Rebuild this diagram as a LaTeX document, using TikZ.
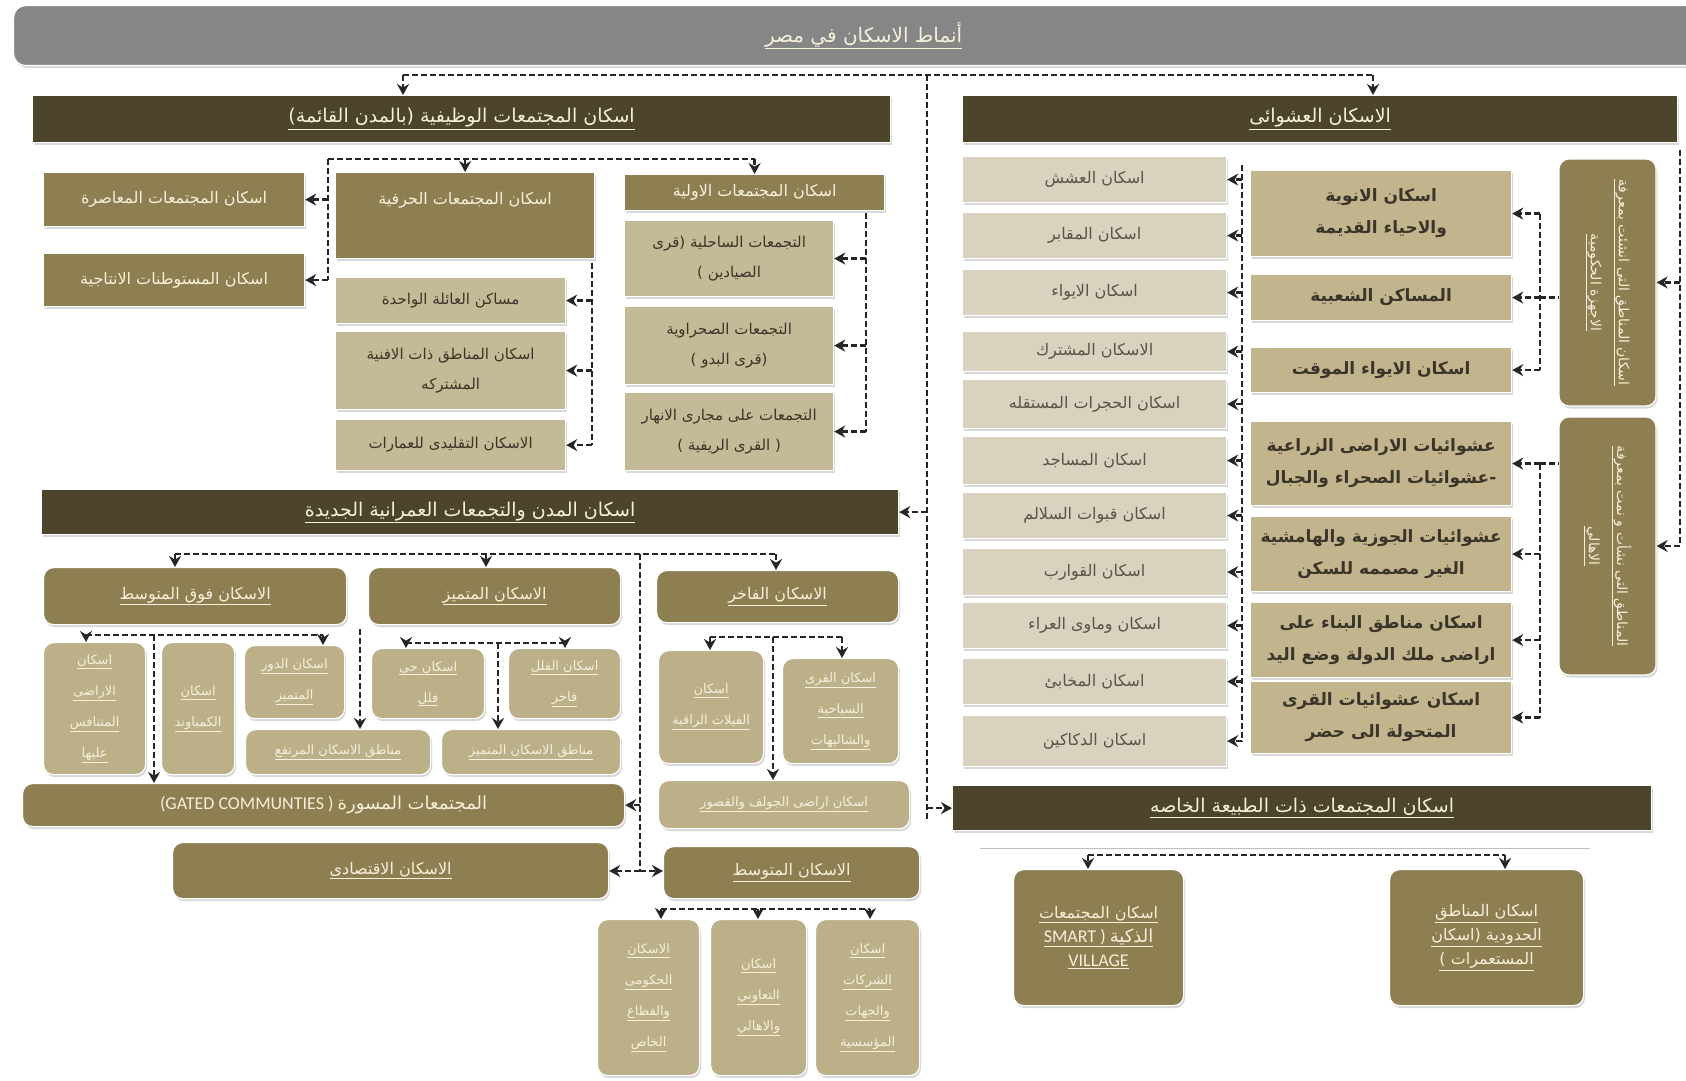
\documentclass[tikz,border=0pt]{standalone}
\usepackage{fontspec}
\setmainfont{Carlito}
\newfontfamily\arabicfont[Script=Arabic]{DejaVu Sans}
\usetikzlibrary{arrows.meta,shadows}
\TeXXeTstate=1
\newcommand\ar[1]{{\arabicfont\beginR #1\endR}}
\newcommand\au[1]{\underline{\ar{#1}}}
\newcommand\bx[7]{\node[#1,anchor=north west,minimum width=#5pt,minimum height=#6pt] (#2) at (#3,#4) {#7};}
\definecolor{darkc}{HTML}{4D452B}
\definecolor{olivec}{HTML}{8E7F52}
\definecolor{tanc}{HTML}{C4BA97}
\definecolor{lightc}{HTML}{D8D2BE}
\definecolor{midc}{HTML}{C2B58E}
\definecolor{softc}{HTML}{BCB089}
\definecolor{cream}{HTML}{F6F0DA}
\definecolor{txtd}{HTML}{3A3528}
\definecolor{txtg}{HTML}{5A5448}
\definecolor{titlegray}{HTML}{868686}
\tikzset{
 bxbase/.style={draw=white, line width=1.2pt, align=center, inner sep=3pt, drop shadow={shadow xshift=1.5pt, shadow yshift=-2.5pt, opacity=0.3}},
 hdr/.style={bxbase, fill=darkc, text=cream, font=\fontsize{19}{24}\selectfont},
 olv/.style={bxbase, fill=olivec, text=cream, font=\fontsize{16}{24}\selectfont},
 olvr/.style={olv, rounded corners=10pt},
 tanbox/.style={bxbase, fill=tanc, text=txtd, font=\fontsize{15}{30}\selectfont},
 lgt/.style={bxbase, fill=lightc, text=txtg, font=\fontsize{16}{20}\selectfont},
 mdt/.style={bxbase, fill=midc, text=txtd, font=\fontsize{17}{32}\selectfont\bfseries},
 softr/.style={bxbase, fill=softc, text=cream, rounded corners=10pt, font=\fontsize{13}{31}\selectfont},
 dsh/.style={draw=black!85, line width=2.4pt, dash pattern=on 6pt off 3pt},
 arr/.style={dsh, -{Stealth[length=11pt,width=12pt]}},
}
\begin{document}
\begin{tikzpicture}[x=1pt,y=-1pt]
\fill[white] (0,0) rectangle (1686,1081);
\useasboundingbox (0,0) rectangle (1686,1081);
% title
\bx{bxbase,fill=titlegray,text=cream,rounded corners=12pt,font=\fontsize{20}{24}\selectfont}{title}{13}{5}{1700}{60}{\au{أنماط الاسكان في مصر}}
\bx{hdr}{hL}{32}{95}{858}{47}{\au{اسكان المجتمعات الوظيفية  (بالمدن القائمة)}}
\bx{hdr}{hR}{962}{95}{715}{47}{\au{الاسكان العشوائى}}
% left section
\bx{olv}{mod}{43}{172}{261}{54}{\ar{اسكان المجتمعات المعاصرة}}
\bx{olv}{prod}{43}{253}{261}{53}{\ar{اسكان المستوطنات الانتاجية}}
\bx{olv}{craft}{335}{172}{259}{86}{\ar{اسكان المجتمعات الحرفية}\\\rule{0pt}{30pt}}
\bx{olv}{prim}{624}{174}{260}{36}{\ar{اسكان المجتمعات الاولية}}
\bx{tanbox}{c1}{335}{277}{230}{46}{\ar{مساكن العائلة الواحدة}}
\bx{tanbox}{c2}{335}{331}{230}{78}{\ar{اسكان المناطق ذات الافنية}\\\ar{المشتركه}}
\bx{tanbox}{c3}{335}{419}{230}{51}{\ar{الاسكان التقليدى للعمارات}}
\bx{tanbox}{p1}{624}{220}{209}{76}{\ar{التجمعات الساحلية (قرى}\\\ar{الصيادين )}}
\bx{tanbox}{p2}{624}{306}{209}{78}{\ar{التجمعات الصحراوية}\\\ar{(قرى البدو )}}
\bx{tanbox}{p3}{624}{392}{209}{78}{\ar{التجمعات على مجارى الانهار}\\\ar{( القرى الريفية )}}
% top connectors
\coordinate (tL) at (403,75);
\coordinate (tR) at (1373,75);
\coordinate (tC) at (927,75);
\coordinate (cB) at (927,819);
\draw[dsh] (tL) -- (tR);
\draw[arr] (tL) -- (tL |- hL.north);
\draw[arr] (tR) -- (tR |- hR.north);
\draw[dsh] (tC) -- (cB);
% left connectors
\coordinate (jL1) at (328,159);
\draw[dsh] (jL1) -- (prim.north |- jL1);
\draw[arr] (craft.north |- jL1) -- (craft.north);
\draw[arr] (prim.north |- jL1) -- (prim.north);
\draw[dsh] (jL1) -- (jL1 |- prod.east);
\draw[arr] (jL1 |- mod.east) -- (mod.east);
\draw[arr] (jL1 |- prod.east) -- (prod.east);
\coordinate (jC) at (592,263);
\draw[dsh] (jC) -- (jC |- c3.east);
\draw[arr] (jC |- c1.east) -- (c1.east);
\draw[arr] (jC |- c2.east) -- (c2.east);
\draw[arr] (jC |- c3.east) -- (c3.east);
\coordinate (jP) at (866,213);
\draw[dsh] (jP) -- (jP |- p3.east);
\draw[arr] (jP |- p1.east) -- (p1.east);
\draw[arr] (jP |- p2.east) -- (p2.east);
\draw[arr] (jP |- p3.east) -- (p3.east);
% new cities
\bx{hdr}{hM}{41}{489}{857}{45}{\au{اسكان المدن والتجمعات العمرانية الجديدة}}
\draw[arr] (tC |- hM.east) -- (hM.east);
\bx{olvr}{ab}{43}{567}{303}{57}{\au{الاسكان فوق المتوسط}}
\bx{olvr}{pm}{368}{567}{252}{57}{\au{الاسكان المتميز}}
\bx{olvr}{lx}{656}{570}{242}{52}{\au{الاسكان الفاخر}}
\bx{softr}{a1}{43}{642}{102}{132}{\au{اسكان}\\\au{الاراضى}\\\au{المتنافس}\\\au{عليها}}
\bx{softr}{a2}{161}{642}{73}{132}{\au{اسكان}\\\au{الكمباوند}}
\bx{softr}{a3}{244}{645}{100}{73}{\au{اسكان الدور}\\\au{المتميز}}
\bx{softr}{m1}{245}{729}{185}{45}{\au{مناطق الاسكان المرتفع}}
\bx{softr}{m2}{441}{729}{179}{45}{\au{مناطق الاسكان المتميز}}
\bx{softr}{pr1}{371}{648}{113}{70}{\au{اسكان حى}\\\au{فلل}}
\bx{softr}{pr2}{508}{648}{112}{70}{\au{اسكان الفلل}\\\au{فاخر}}
\bx{softr}{l1}{658}{650}{105}{113}{\au{اسكان}\\\au{الفيلات الراقية}}
\bx{softr}{l2}{782}{658}{116}{105}{\au{اسكان القرى}\\\au{السياحية}\\\au{والشاليهات}}
\bx{softr}{golf}{658}{780}{251}{48}{\au{اسكان اراضى الجولف والقصور}}
\bx{olvr}{gated}{22}{783}{602}{43}{\fontsize{18}{22}\selectfont(GATED COMMUNTIES ) \ar{المجتمعات المسورة}}
\bx{olvr}{econ}{172}{842}{436}{56}{\au{الاسكان الاقتصادى}}
\bx{olvr}{mid}{663}{846}{256}{52}{\au{الاسكان المتوسط}}
\bx{softr}{mc1}{597}{919}{102}{156}{\au{الاسكان}\\\au{الحكومى}\\\au{والقطاع}\\\au{الخاص}}
\bx{softr}{mc2}{710}{919}{96}{156}{\au{اسكان}\\\au{التعاوني}\\\au{والاهالي}}
\bx{softr}{mc3}{815}{919}{104}{156}{\au{اسكان}\\\au{الشركات}\\\au{والجهات}\\\au{المؤسسية}}
% new cities connectors
\coordinate (mA) at (175,554);
\coordinate (mP) at (486,554);
\coordinate (mV) at (640,554);
\coordinate (mB) at (776,554);
\coordinate (mV2) at (640,871);
\draw[dsh] (mA) -- (mB);
\draw[arr] (mA) -- (mA |- ab.north);
\draw[arr] (mP) -- (mP |- pm.north);
\draw[arr] (mB) -- (mB |- lx.north);
\draw[dsh] (mV) -- (mV2);
\draw[arr] (mV |- gated.east) -- (gated.east);
\draw[arr] (mV2) -- (mV2 -| econ.east);
\draw[arr] (mV2) -- (mV2 -| mid.west);
\coordinate (aA) at (86,635);
\coordinate (aB) at (323,635);
\coordinate (aV) at (154,635);
\draw[dsh] (aA) -- (aB);
\draw[arr] (aA) -- (aA |- a1.north);
\draw[arr] (aB) -- (aB |- a3.north);
\draw[arr] (aV) -- (aV |- gated.north);
\coordinate (pA) at (406,643);
\coordinate (pB) at (565,643);
\coordinate (pV) at (498,643);
\coordinate (pW) at (360,629);
\draw[dsh] (pA) -- (pB);
\draw[arr] (pA) -- (pA |- pr1.north);
\draw[arr] (pB) -- (pB |- pr2.north);
\draw[arr] (pV) -- (pV |- m2.north);
\draw[arr] (pW) -- (pW |- m1.north);
\coordinate (lA) at (710,637);
\coordinate (lB) at (842,637);
\coordinate (lV) at (773,637);
\draw[dsh] (lA) -- (lB);
\draw[arr] (lA) -- (lA |- l1.north);
\draw[arr] (lB) -- (lB |- l2.north);
\draw[arr] (lV) -- (lV |- golf.north);
\coordinate (dA) at (661,909);
\coordinate (dM) at (758,909);
\coordinate (dB) at (870,909);
\draw[dsh] (dA) -- (dB);
\draw[arr] (dA) -- (dA |- mc1.north);
\draw[arr] (dM) -- (dM |- mc2.north);
\draw[arr] (dB) -- (dB |- mc3.north);
% informal section
\bx{lgt}{r1}{962}{156}{264}{46}{\ar{اسكان العشش}}
\bx{lgt}{r2}{962}{212}{264}{46}{\ar{اسكان المقابر}}
\bx{lgt}{r3}{962}{269}{264}{46}{\ar{اسكان الايواء}}
\bx{lgt}{r4}{962}{331}{264}{40}{\ar{الاسكان المشترك}}
\bx{lgt}{r5}{962}{379}{264}{49}{\ar{اسكان الحجرات المستقله}}
\bx{lgt}{r6}{962}{436}{264}{48}{\ar{اسكان المساجد}}
\bx{lgt}{r7}{962}{492}{264}{46}{\ar{اسكان قبوات السلالم}}
\bx{lgt}{r8}{962}{548}{264}{47}{\ar{اسكان القوارب}}
\bx{lgt}{r9}{962}{602}{264}{46}{\ar{اسكان وماوى العراء}}
\bx{lgt}{r10}{962}{658}{264}{46}{\ar{اسكان المخابئ}}
\bx{lgt}{r11}{962}{715}{264}{51}{\ar{اسكان الدكاكين}}
\coordinate (jR) at (1242,165);
\draw[dsh] (jR) -- (jR |- r11.east);
\foreach \n in {r1,r2,r3,r4,r5,r6,r7,r8,r9,r10,r11}{\draw[arr] (jR |- \n.east) -- (\n.east);}
\bx{mdt}{q1}{1250}{170}{261}{86}{\ar{اسكان الانوية}\\\ar{والاحياء القديمة}}
\bx{mdt}{q2}{1250}{274}{261}{46}{\ar{المساكن الشعبية}}
\bx{mdt}{q3}{1250}{347}{261}{45}{\ar{اسكان الايواء الموقت}}
\bx{mdt}{q4}{1250}{421}{261}{84}{\ar{عشوائيات الاراضى الزراعية}\\\ar{-عشوائيات الصحراء والجبال}}
\bx{mdt}{q5}{1250}{516}{261}{75}{\ar{عشوائيات الجوزية والهامشية}\\\ar{الغير مصممه للسكن}}
\bx{mdt}{q6}{1250}{602}{261}{75}{\ar{اسكان مناطق البناء على}\\\ar{اراضى ملك الدولة  وضع اليد}}
\bx{mdt}{q7}{1250}{681}{261}{72}{\ar{اسكان عشوائيات القرى}\\\ar{المتحولة الى حضر}}
\node[olvr, rotate=-90, minimum width=247pt, minimum height=97pt, font=\fontsize{14}{28}\selectfont] (v1) at (1607.5,282.5) {\au{اسكان المناطق التى انشئت بمعرفة}\\\au{الاجهزة الحكومية}};
\node[olvr, rotate=-90, minimum width=258pt, minimum height=97pt, font=\fontsize{14}{28}\selectfont] (v2) at (1607.5,546) {\au{المناطق التى نشأت و نمت بمعرفة}\\\au{الاهالي}};
\coordinate (bU) at (1540,213);
\draw[dsh] (bU |- q1.east) -- (bU |- q3.east);
\draw[arr] (bU |- q1.east) -- (q1.east);
\draw[arr] (bU |- q2.east) -- (q2.east);
\draw[arr] (bU |- q3.east) -- (q3.east);
\draw[dsh] (bU |- q2.east) -- (v1.south |- q2.east);
\draw[dsh] (bU |- q4.east) -- (bU |- q7.east);
\draw[arr] (bU |- q4.east) -- (q4.east);
\draw[arr] (bU |- q5.east) -- (q5.east);
\draw[arr] (bU |- q6.east) -- (q6.east);
\draw[arr] (bU |- q7.east) -- (q7.east);
\draw[dsh] (bU |- q4.east) -- (v2.south |- q4.east);
\coordinate (fr) at (1680,150);
\draw[dsh] (fr) -- (fr |- v2.north);
\draw[arr] (fr |- v1.north) -- (v1.north);
\draw[arr] (fr |- v2.north) -- (v2.north);
% special nature
\bx{hdr}{hS}{952}{785}{699}{45}{\au{اسكان المجتمعات ذات الطبيعة الخاصه}}
\draw[arr] (cB |- hS.west) -- (hS.west);
\draw[black!25, line width=1pt] (980,848) -- (1590,848);
\bx{olvr}{sm}{1013}{869}{170}{136}{\au{اسكان المجتمعات}\\\underline{\fontsize{18}{22}\selectfont SMART ) \ar{الذكية}}\\\underline{\fontsize{18}{22}\selectfont VILLAGE}}
\bx{olvr}{bd}{1389}{869}{194}{136}{\au{اسكان المناطق}\\\au{الحدودية (اسكان}\\\au{المستعمرات )}}
\coordinate (sA) at (1088,855);
\coordinate (sB) at (1505,855);
\draw[dsh] (sA) -- (sB);
\draw[arr] (sA) -- (sA |- sm.north);
\draw[arr] (sB) -- (sB |- bd.north);
\end{tikzpicture}
\end{document}
